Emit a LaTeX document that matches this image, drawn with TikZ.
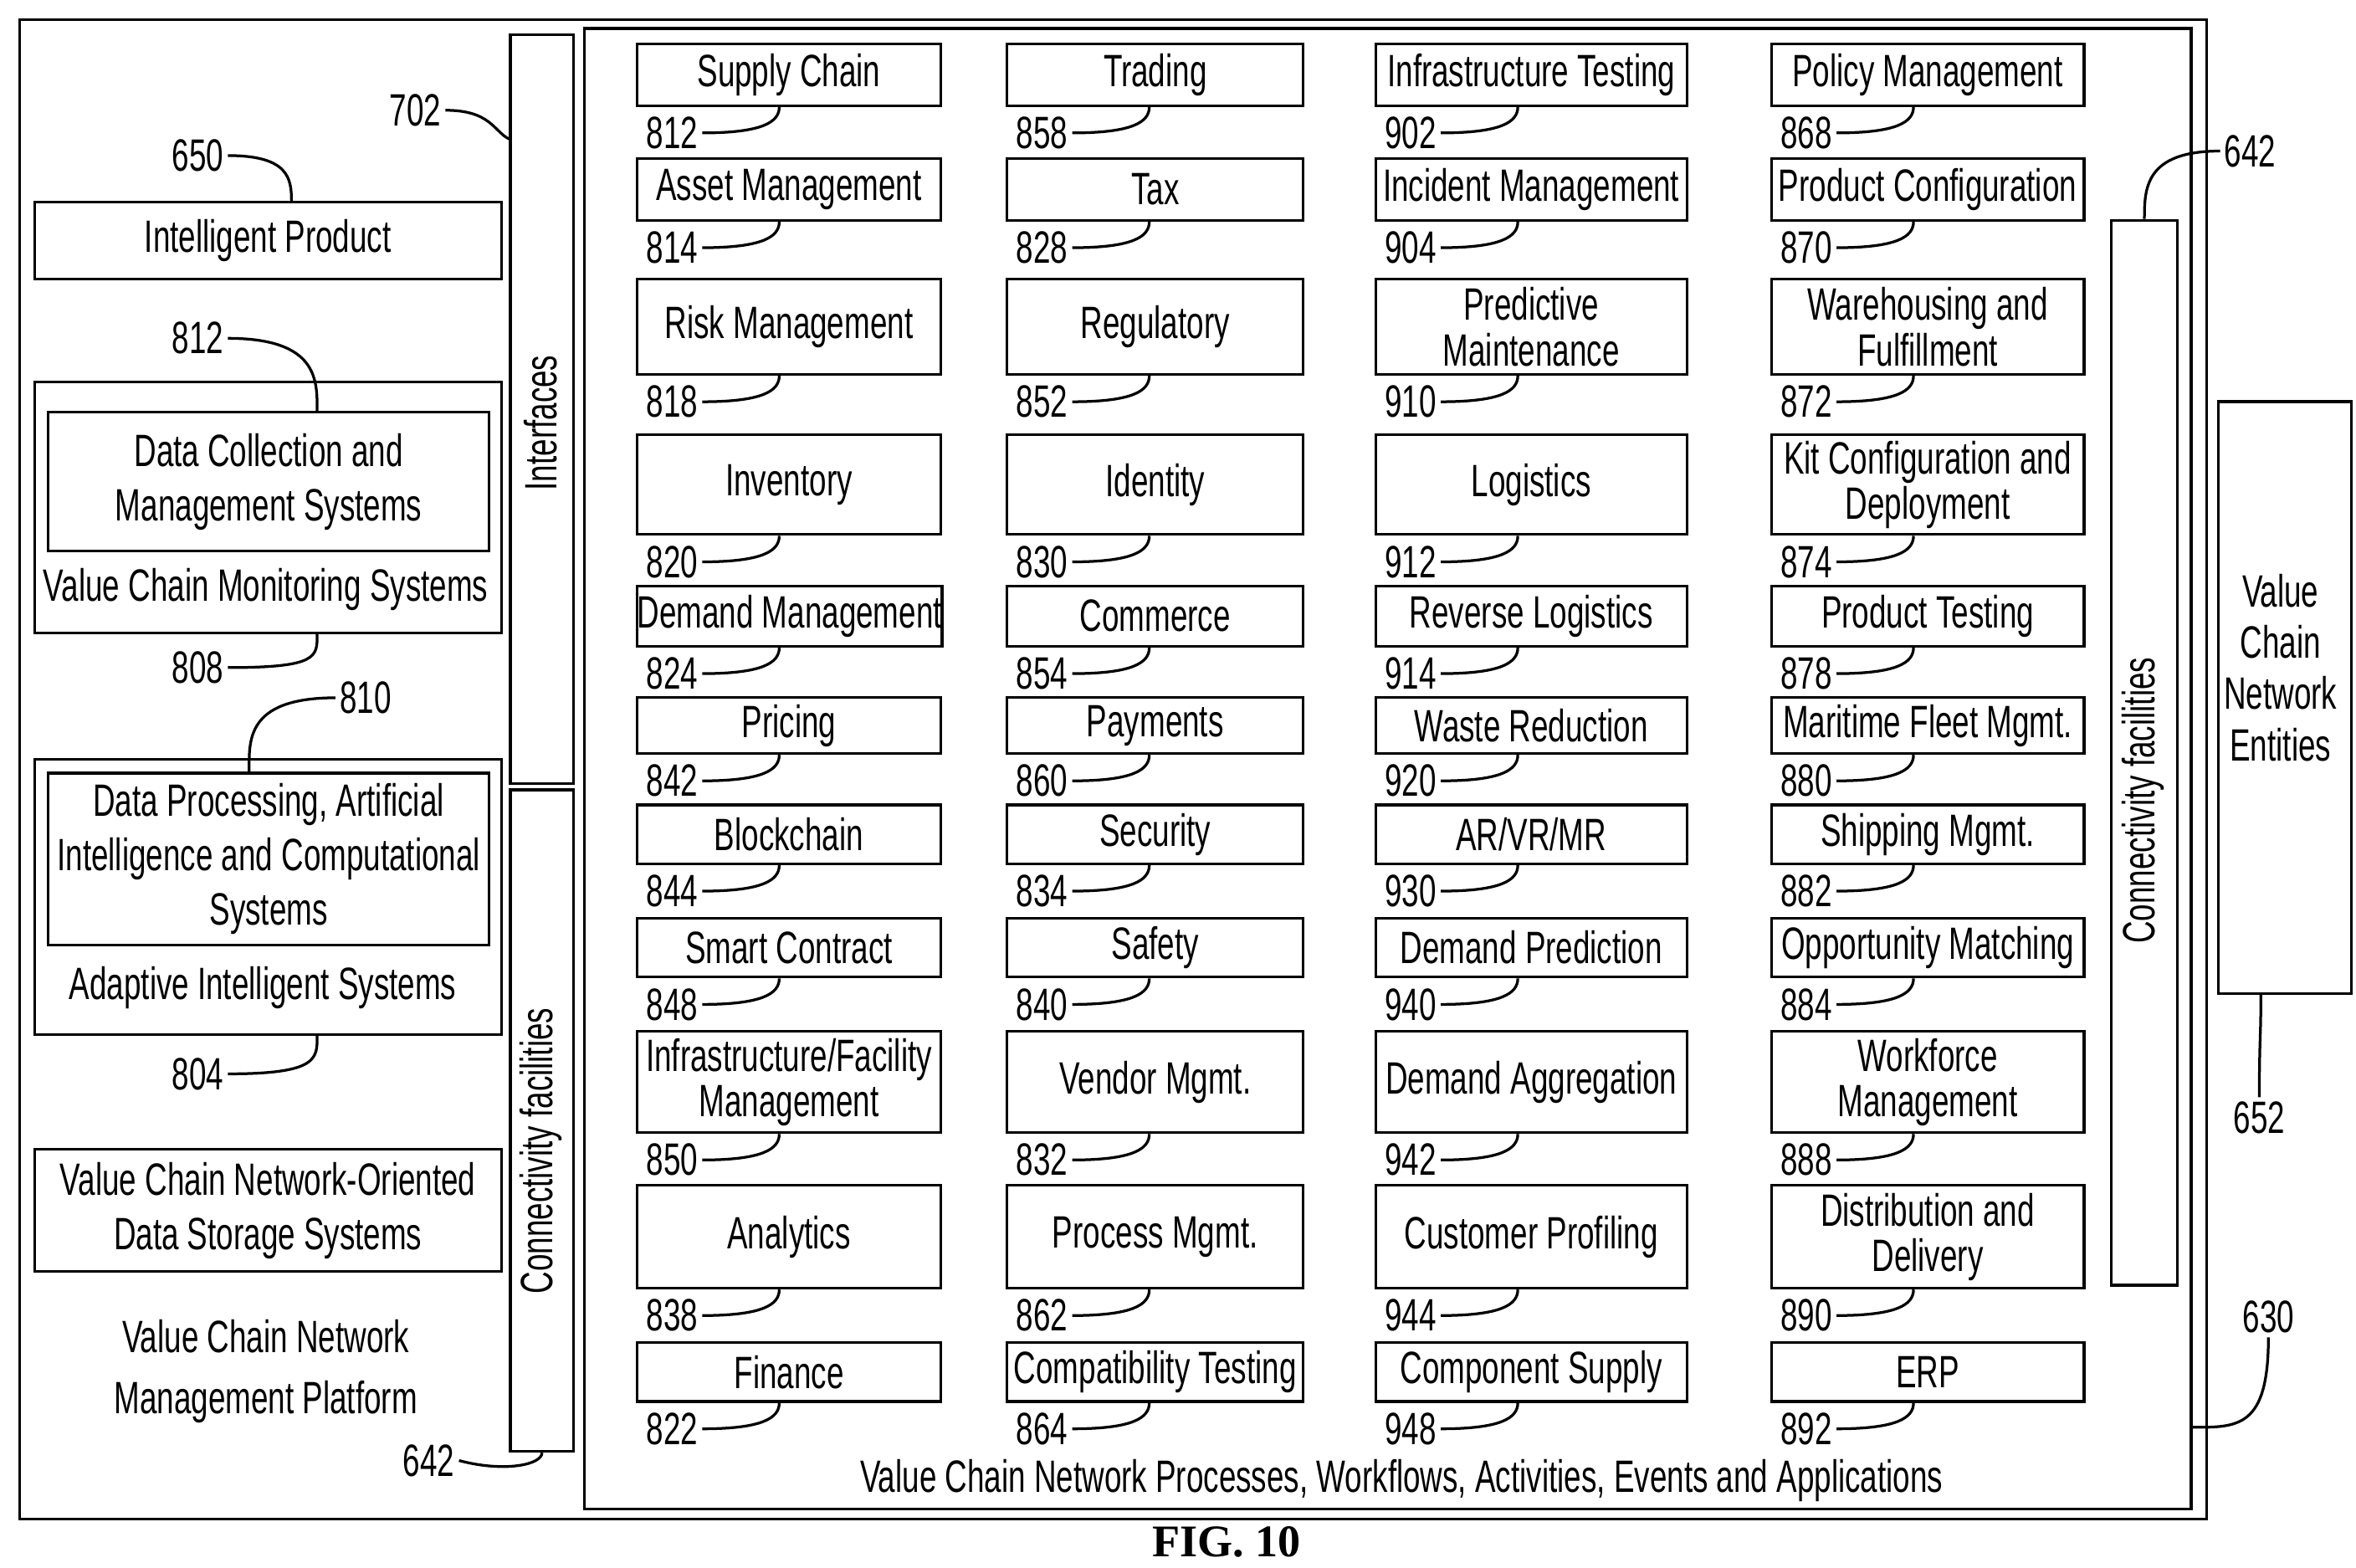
\documentclass[tikz,border=0pt]{standalone}
\usepackage{fontspec}
\setmainfont{Liberation Sans}[FakeStretch=0.68]
\usetikzlibrary{calc}
\begin{document}
\begin{tikzpicture}[x=0.5pt,y=-0.5pt,line width=0.9pt,
  box/.style={draw,inner sep=0pt,align=center,font=\fontsize{15}{15}\selectfont},
  num/.style={inner sep=1pt,font=\fontsize{15}{15}\selectfont},
  lbl/.style={align=center,font=\fontsize{15}{17}\selectfont,inner sep=0pt}]
\useasboundingbox (0,0) rectangle (1560,1038);
\newcommand\vcell[6]{%
  \node[box,minimum width=#2*0.5pt,minimum height=(#4-#3)*0.5pt,anchor=north west] (b#6) at (#1,#3) {#5};
  \node[num,anchor=east] (n#6) at (#1+44,#4+19) {#6};
  \draw (n#6.east) .. controls +(40,0) and +(0,10) .. ($(b#6.south west)+(95,0)$);}
% frames
\node[draw,minimum width=1448*0.5pt,minimum height=993*0.5pt,anchor=north west] (outer) at (12,12) {};
\node[draw,minimum width=1064*0.5pt,minimum height=980*0.5pt,anchor=north west] (inner) at (386,18) {};
\node[draw,minimum width=42*0.5pt,minimum height=496*0.5pt,anchor=north west] (intf) at (337,22) {};
\node[rotate=90,font=\fontsize{15}{15}\selectfont] at (358,280) {Interfaces};
\node[draw,minimum width=42*0.5pt,minimum height=438*0.5pt,anchor=north west] (conl) at (337,522) {};
\node[rotate=90,font=\fontsize{15}{15}\selectfont] at (358,762) {Connectivity facilities};
\node[draw,minimum width=44*0.5pt,minimum height=705*0.5pt,anchor=north west] (conr) at (1397,145) {};
\node[rotate=90,font=\fontsize{15}{15}\selectfont] at (1419,530) {Connectivity facilities};
\node[box,minimum width=88*0.5pt,minimum height=392*0.5pt,anchor=north west] (ent) at (1468,265) {};
\node[lbl] at (1510,442) {Value\\Chain\\Network\\Entities};
% left column
\node[box,minimum width=309*0.5pt,minimum height=51*0.5pt,anchor=north west] (ip) at (22,133) {Intelligent Product};
\node[draw,minimum width=309*0.5pt,minimum height=166*0.5pt,anchor=north west] (vcms) at (22,252) {};
\node[box,minimum width=292*0.5pt,minimum height=92*0.5pt,anchor=north west] (dcm) at (31,272) {Data Collection and\\[3pt]Management Systems};
\node[lbl] at (176,390) {Value Chain Monitoring Systems};
\node[draw,minimum width=309*0.5pt,minimum height=182*0.5pt,anchor=north west] (ais) at (22,502) {};
\node[box,minimum width=292*0.5pt,minimum height=114*0.5pt,anchor=north west] (dp) at (31,511) {Data Processing, Artificial\\[3pt]Intelligence and Computational\\[3pt]Systems};
\node[lbl] at (174,654) {Adaptive Intelligent Systems};
\node[box,minimum width=309*0.5pt,minimum height=81*0.5pt,anchor=north west] (ds) at (22,760) {Value Chain Network-Oriented\\[3pt]Data Storage Systems};
\node[lbl] at (176,908) {Value Chain Network\\[3pt]Management Platform};
\node[lbl] at (928,980) {Value Chain Network Processes, Workflows, Activities, Events and Applications};
\node[font=\fontsize{15}{15}\selectfont\bfseries\fontspec{Liberation Serif}] at (812,1021) {FIG. 10};
% reference labels
\node[num] (r702) at (275,73) {702};
\draw (r702.east) .. controls +(30,0) and +(-10,-5) .. ($(intf.north west)+(0,70)$);
\node[num] (r650) at (131,103) {650};
\draw (r650.east) .. controls +(40,0) and +(0,-15) .. ($(ip.north west)+(171,0)$);
\node[num] (r812) at (131,224) {812};
\draw (r812.east) .. controls +(60,0) and +(0,-20) .. ($(dcm.north west)+(179,0)$);
\node[num] (r808) at (131,442) {808};
\draw (r808.east) .. controls +(60,0) and +(0,15) .. ($(vcms.south west)+(188,0)$);
\node[num] (r810) at (242,462) {810};
\draw (r810.west) .. controls +(-60,0) and +(0,-20) .. ($(dp.north west)+(134,0)$);
\node[num] (r804) at (131,711) {804};
\draw (r804.east) .. controls +(60,0) and +(0,15) .. ($(ais.south west)+(188,0)$);
\node[num] (r642a) at (284,967) {642};
\draw (r642a.east) .. controls +(30,8) and +(0,8) .. (conl.south);
\node[num] (r642b) at (1490,100) {642};
\draw (r642b.west) .. controls +(-50,0) and +(0,-20) .. (conr.north);
\node[num] (r652) at (1496,740) {652};
\draw (r652.north) .. controls +(0,-40) and +(0,30) .. ($(ent.south west)+(29,0)$);
\node[num] (r630) at (1502,872) {630};
\draw (r630.south) .. controls +(0,60) and +(30,0) .. ($(inner.north east)+(0,927)$);
% grid
\vcell{421}{201}{28}{69}{Supply Chain}{812}
\vcell{421}{201}{104}{145}{Asset Management}{814}
\vcell{421}{201}{184}{247}{Risk Management}{818}
\vcell{421}{201}{287}{353}{Inventory}{820}
\vcell{421}{201}{387}{427}{Demand Management}{824}
\vcell{421}{201}{461}{498}{Pricing}{842}
\vcell{421}{201}{532}{571}{Blockchain}{844}
\vcell{421}{201}{607}{646}{Smart Contract}{848}
\vcell{421}{201}{682}{749}{Infrastructure/Facility\\Management}{850}
\vcell{421}{201}{784}{852}{Analytics}{838}
\vcell{421}{201}{888}{927}{Finance}{822}
\vcell{666}{196}{28}{69}{Trading}{858}
\vcell{666}{196}{104}{145}{Tax}{828}
\vcell{666}{196}{184}{247}{Regulatory}{852}
\vcell{666}{196}{287}{353}{Identity}{830}
\vcell{666}{196}{387}{427}{Commerce}{854}
\vcell{666}{196}{461}{498}{Payments}{860}
\vcell{666}{196}{532}{571}{Security}{834}
\vcell{666}{196}{607}{646}{Safety}{840}
\vcell{666}{196}{682}{749}{Vendor Mgmt.}{832}
\vcell{666}{196}{784}{852}{Process Mgmt.}{862}
\vcell{666}{196}{888}{927}{Compatibility Testing}{864}
\vcell{910}{206}{28}{69}{Infrastructure Testing}{902}
\vcell{910}{206}{104}{145}{Incident Management}{904}
\vcell{910}{206}{184}{247}{Predictive\\Maintenance}{910}
\vcell{910}{206}{287}{353}{Logistics}{912}
\vcell{910}{206}{387}{427}{Reverse Logistics}{914}
\vcell{910}{206}{461}{498}{Waste Reduction}{920}
\vcell{910}{206}{532}{571}{AR/VR/MR}{930}
\vcell{910}{206}{607}{646}{Demand Prediction}{940}
\vcell{910}{206}{682}{749}{Demand Aggregation}{942}
\vcell{910}{206}{784}{852}{Customer Profiling}{944}
\vcell{910}{206}{888}{927}{Component Supply}{948}
\vcell{1172}{207}{28}{69}{Policy Management}{868}
\vcell{1172}{207}{104}{145}{Product Configuration}{870}
\vcell{1172}{207}{184}{247}{Warehousing and\\Fulfillment}{872}
\vcell{1172}{207}{287}{353}{Kit Configuration and\\Deployment}{874}
\vcell{1172}{207}{387}{427}{Product Testing}{878}
\vcell{1172}{207}{461}{498}{Maritime Fleet Mgmt.}{880}
\vcell{1172}{207}{532}{571}{Shipping Mgmt.}{882}
\vcell{1172}{207}{607}{646}{Opportunity Matching}{884}
\vcell{1172}{207}{682}{749}{Workforce\\Management}{888}
\vcell{1172}{207}{784}{852}{Distribution and\\Delivery}{890}
\vcell{1172}{207}{888}{927}{ERP}{892}
\end{tikzpicture}
\end{document}
